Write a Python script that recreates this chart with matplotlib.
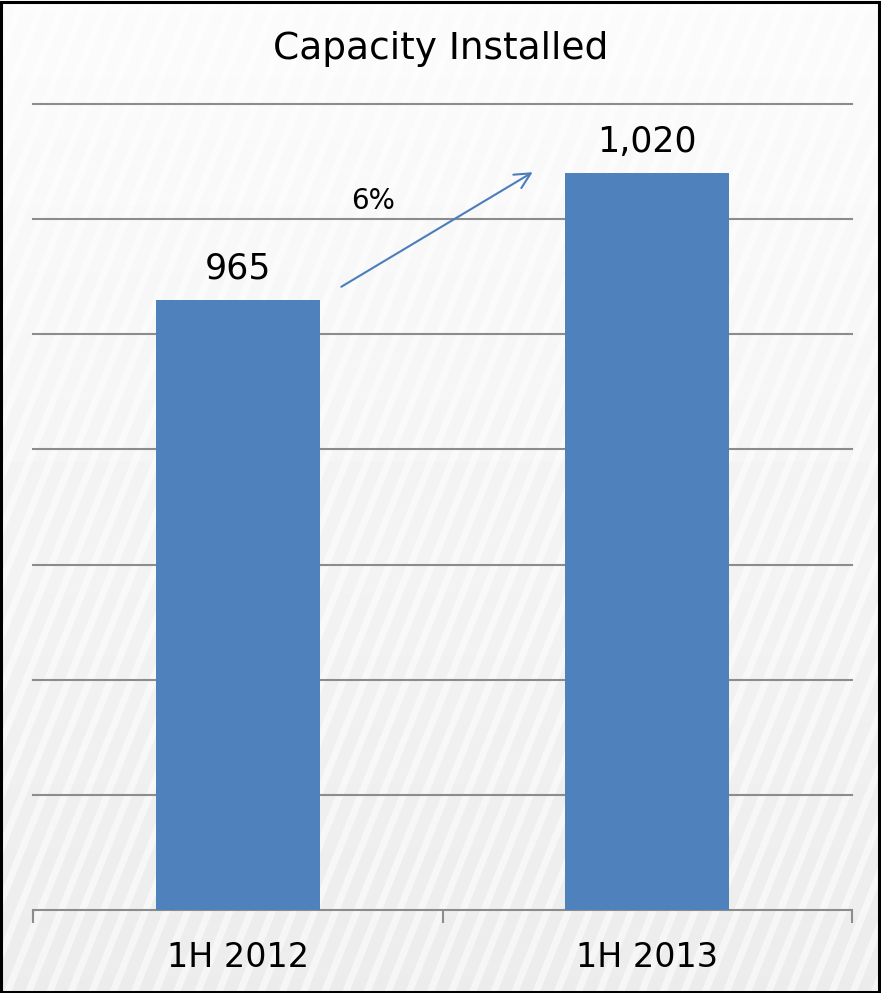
import numpy as np
import matplotlib.pyplot as plt
from matplotlib.patches import Rectangle

# chart data
categories = ["1H 2012", "1H 2013"]
capacity = [965, 1020]
growth_label = "6%"

bar_color = "#4f81bd"
font = "DejaVu Sans"

fig = plt.figure(figsize=(8.81, 9.93), dpi=100)

# background: light gradient with diagonal stripes (decoration only)
bg = fig.add_axes([0, 0, 1, 1], zorder=-5)
grad = np.linspace(0.985, 0.925, 256).reshape(-1, 1)
bg.imshow(grad, aspect="auto", cmap="gray", vmin=0, vmax=1, extent=[0, 1, 0, 1])
bg.set_axis_off()
for x0 in np.arange(-1.0, 1.2, 0.024):
    bg.plot([x0, x0 + 0.45], [0, 1], color="white", lw=5, alpha=0.55)
bg.set_xlim(0, 1)
bg.set_ylim(0, 1)
fig.add_artist(Rectangle((0.001, 0.001), 0.997, 0.997, transform=fig.transFigure,
                         fill=False, ec="black", lw=2.2, zorder=10))

ax = fig.add_axes([0.0375, 0.0836, 0.9296, 0.8117])
ax.set_facecolor("none")

x = np.arange(len(categories))
ax.bar(x, capacity, width=0.4, color=bar_color, zorder=3)

ax.set_xlim(-0.5, 1.5)
ax.set_ylim(700, 1050)
ax.set_yticks(np.arange(750, 1051, 50))
ax.yaxis.grid(True, color="#8c8c8c", lw=1.5, zorder=1)
for gl in ax.get_ygridlines():
    gl.set_clip_on(False)
ax.tick_params(axis="y", left=False, labelleft=False)

ax.set_xticks(x)
ax.set_xticklabels(categories, fontsize=24, family=font)
ax.set_xticks([-0.5, 0.5, 1.5], minor=True)
ax.tick_params(axis="x", which="major", length=0, pad=22)
ax.tick_params(axis="x", which="minor", length=9, width=1.5, color="#8c8c8c")

for side in ["top", "left", "right"]:
    ax.spines[side].set_visible(False)
ax.spines["bottom"].set_color("#8c8c8c")
ax.spines["bottom"].set_linewidth(1.5)

for xi, v in zip(x, capacity):
    ax.text(xi, v + 6, f"{v:,}", ha="center", va="bottom", fontsize=25, family=font)

# growth arrow
ax.annotate("", xy=(0.726, capacity[1] + 1), xytext=(0.247, capacity[0] + 5),
            arrowprops=dict(arrowstyle="->", color="#4a7ebb", lw=1.5,
                            mutation_scale=28), zorder=4)
ax.text(0.33, 1008, growth_label, ha="center", va="center", fontsize=20, family=font)

fig.text(0.5, 0.951, "Capacity Installed", ha="center", va="center",
         fontsize=27, family=font)

fig.savefig("out.png", dpi=100)
